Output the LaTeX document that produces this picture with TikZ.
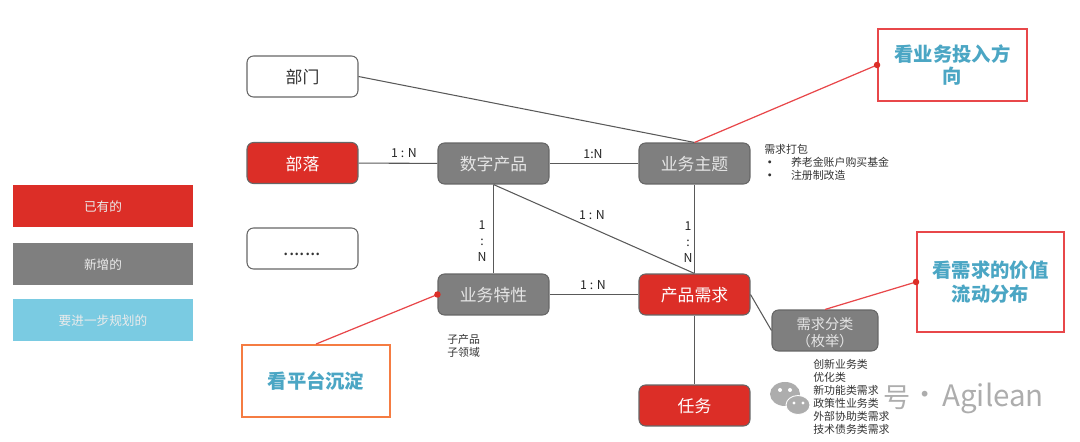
\documentclass[tikz,border=0pt]{standalone}
\usepackage{fontspec}
\setmainfont{Noto Sans CJK SC}
\definecolor{boxred}{HTML}{DC2E27}
\definecolor{boxgray}{HTML}{7F7F7F}
\definecolor{boxblue}{HTML}{7ACBE2}
\definecolor{noteblue}{HTML}{4BA6C4}
\definecolor{linered}{HTML}{E8474A}
\definecolor{noteorange}{HTML}{F57C42}
\tikzset{
    base-box/.style = {draw=black!60, line width=0.6pt, rectangle, rounded corners=0.13cm, minimum width=2.22cm, minimum height=0.82cm, inner sep=0pt, text height=9.5pt, text depth=1.2pt, font=\fontsize{9.6pt}{11pt}\selectfont},
    white-box/.style = {base-box, fill=white, text=black!80},
    red-box/.style = {base-box, fill=boxred, text=white},
    gray-box/.style = {base-box, fill=boxgray, text=white!90!black},
    legend-box/.style = {rectangle, minimum width=3.6cm, minimum height=0.84cm, inner sep=0pt, text height=7.4pt, text depth=0.9pt, text=white!92!black, font=\fontsize{7.2pt}{9pt}\selectfont},
    note-box/.style = {draw=linered, line width=1.1pt, fill=white, rectangle, inner sep=0pt, align=center, text=noteblue, font=\fontsize{11pt}{14pt}\selectfont\bfseries},
    link-line/.style = {draw=black!65, line width=0.6pt},
    red-line/.style = {draw=linered, line width=0.7pt},
    red-dot/.style = {circle, fill=boxred, inner sep=0pt, minimum size=0.13cm},
    rel-label/.style = {inner sep=0pt, align=center, text=black!85, font=\fontsize{7pt}{8.4pt}\selectfont},
    small-text/.style = {inner sep=0pt, align=left, anchor=north west, text=black!80, font=\fontsize{6.2pt}{7.35pt}\selectfont},
    mark-text/.style = {inner sep=0pt, anchor=west, text=black!32, font=\fontsize{15.5pt}{18pt}\selectfont},
}
\begin{document}
\begin{tikzpicture}[x=0.02cm, y=-0.02cm]
\useasboundingbox (0,0) rectangle (1080,442);

\node [legend-box, fill=boxred] (legendold) at (103,206) {已有的};
\node [legend-box, fill=boxgray] (legendnew) at (103,264) {新增的};
\node [legend-box, fill=boxblue] (legendplan) at (103,320) {要进一步规划的};

\node [white-box] (bumen) at (302.5,76.5) {部门};
\node [red-box] (buluo) at (302.5,163) {部落};
\node [white-box, font=\fontsize{11pt}{12pt}\selectfont] (more) at (302.5,248.5) {.......};
\node [gray-box] (chanpin) at (493.5,163.5) {数字产品};
\node [gray-box] (zhuti) at (694.5,163.5) {业务主题};
\node [gray-box] (texing) at (493.5,294.5) {业务特性};
\node [red-box] (xuqiu) at (694.5,294.5) {产品需求};
\node [red-box] (renwu) at (694.5,405.5) {任务};
\node [gray-box, text height=, text depth=, minimum width=2.12cm, align=center, font=\fontsize{8.1pt}{9.8pt}\selectfont] (fenlei) at (825,330.5) {\rule{0pt}{9.5pt}需求分类\\（枚举）};

\node [note-box, minimum width=2.98cm, minimum height=1.44cm, font=\fontsize{11pt}{12.6pt}\selectfont\bfseries] (notetouru) at (952.5,65) {看业务投入方\\向};
\node [note-box, minimum width=2.94cm, minimum height=2cm] (notejiazhi) at (990.5,282) {看需求的价值\\流动分布};
\node [note-box, draw=noteorange, minimum width=2.96cm, minimum height=1.44cm] (notepingtai) at (316,381) {看平台沉淀};

\draw [link-line] (bumen.east) -- (zhuti.north);
\draw [link-line] (buluo) -- (chanpin);
\draw [link-line] (chanpin) -- (zhuti);
\draw [link-line] (chanpin) -- (texing);
\draw [link-line] (chanpin.south) -- (xuqiu.north);
\draw [link-line] (zhuti) -- (xuqiu);
\draw [link-line] (texing) -- (xuqiu);
\draw [link-line] (xuqiu) -- (renwu);
\draw [link-line] (xuqiu.east) -- (fenlei.west);

\draw [red-line] (notetouru.west) -- (zhuti.north);
\draw [red-line] (notejiazhi.west) -- (fenlei.north);
\draw [red-line] (texing.west) -- (notepingtai.north);
\node [red-dot] (dottouru) at (notetouru.west) {};
\node [red-dot] (dotjiazhi) at (notejiazhi.west) {};
\node [red-dot] (dotpingtai) at (texing.west) {};

\node [rel-label] (relbuluo) at (404,153) {1 : N};
\node [rel-label] (relzhuti) at (593,154) {1:N};
\node [rel-label] (reldiag) at (592,215) {1 : N};
\node [rel-label] (reltexing) at (593,285) {1 : N};
\node [rel-label, font=\fontsize{7pt}{8.9pt}\selectfont] (relleft) at (482,241) {1\\:\\N};
\node [rel-label, font=\fontsize{7pt}{8.9pt}\selectfont] (relright) at (688,242) {1\\:\\N};

\node [small-text] (textbao) at (764,144) {需求打包\\{\bfseries •}\hspace{9pt}养老金账户购买基金\\{\bfseries •}\hspace{9pt}注册制改造};
\node [small-text] (textzi) at (447,334) {子产品\\子领域};

\fill [black!32] (785,394) ellipse (15 and 12);
\fill [white] (780,390) circle (2) (790,390) circle (2);
\draw [white, line width=0.5pt, fill=black!32] (798,405) ellipse (12 and 9.5);
\fill [white] (794,403) circle (1.6) (803,403) circle (1.6);
\node [mark-text] (markhao) at (883,398) {号};
\node [mark-text] (markdot) at (911,398) {·};
\node [mark-text, font=\fontsize{16.8pt}{18pt}\selectfont] (markname) at (942,398) {Agilean};

\node [small-text] (textlei) at (813,359) {创新业务类\\优化类\\新功能类需求\\政策性业务类\\外部协助类需求\\技术债务类需求};
\end{tikzpicture}
\end{document}
